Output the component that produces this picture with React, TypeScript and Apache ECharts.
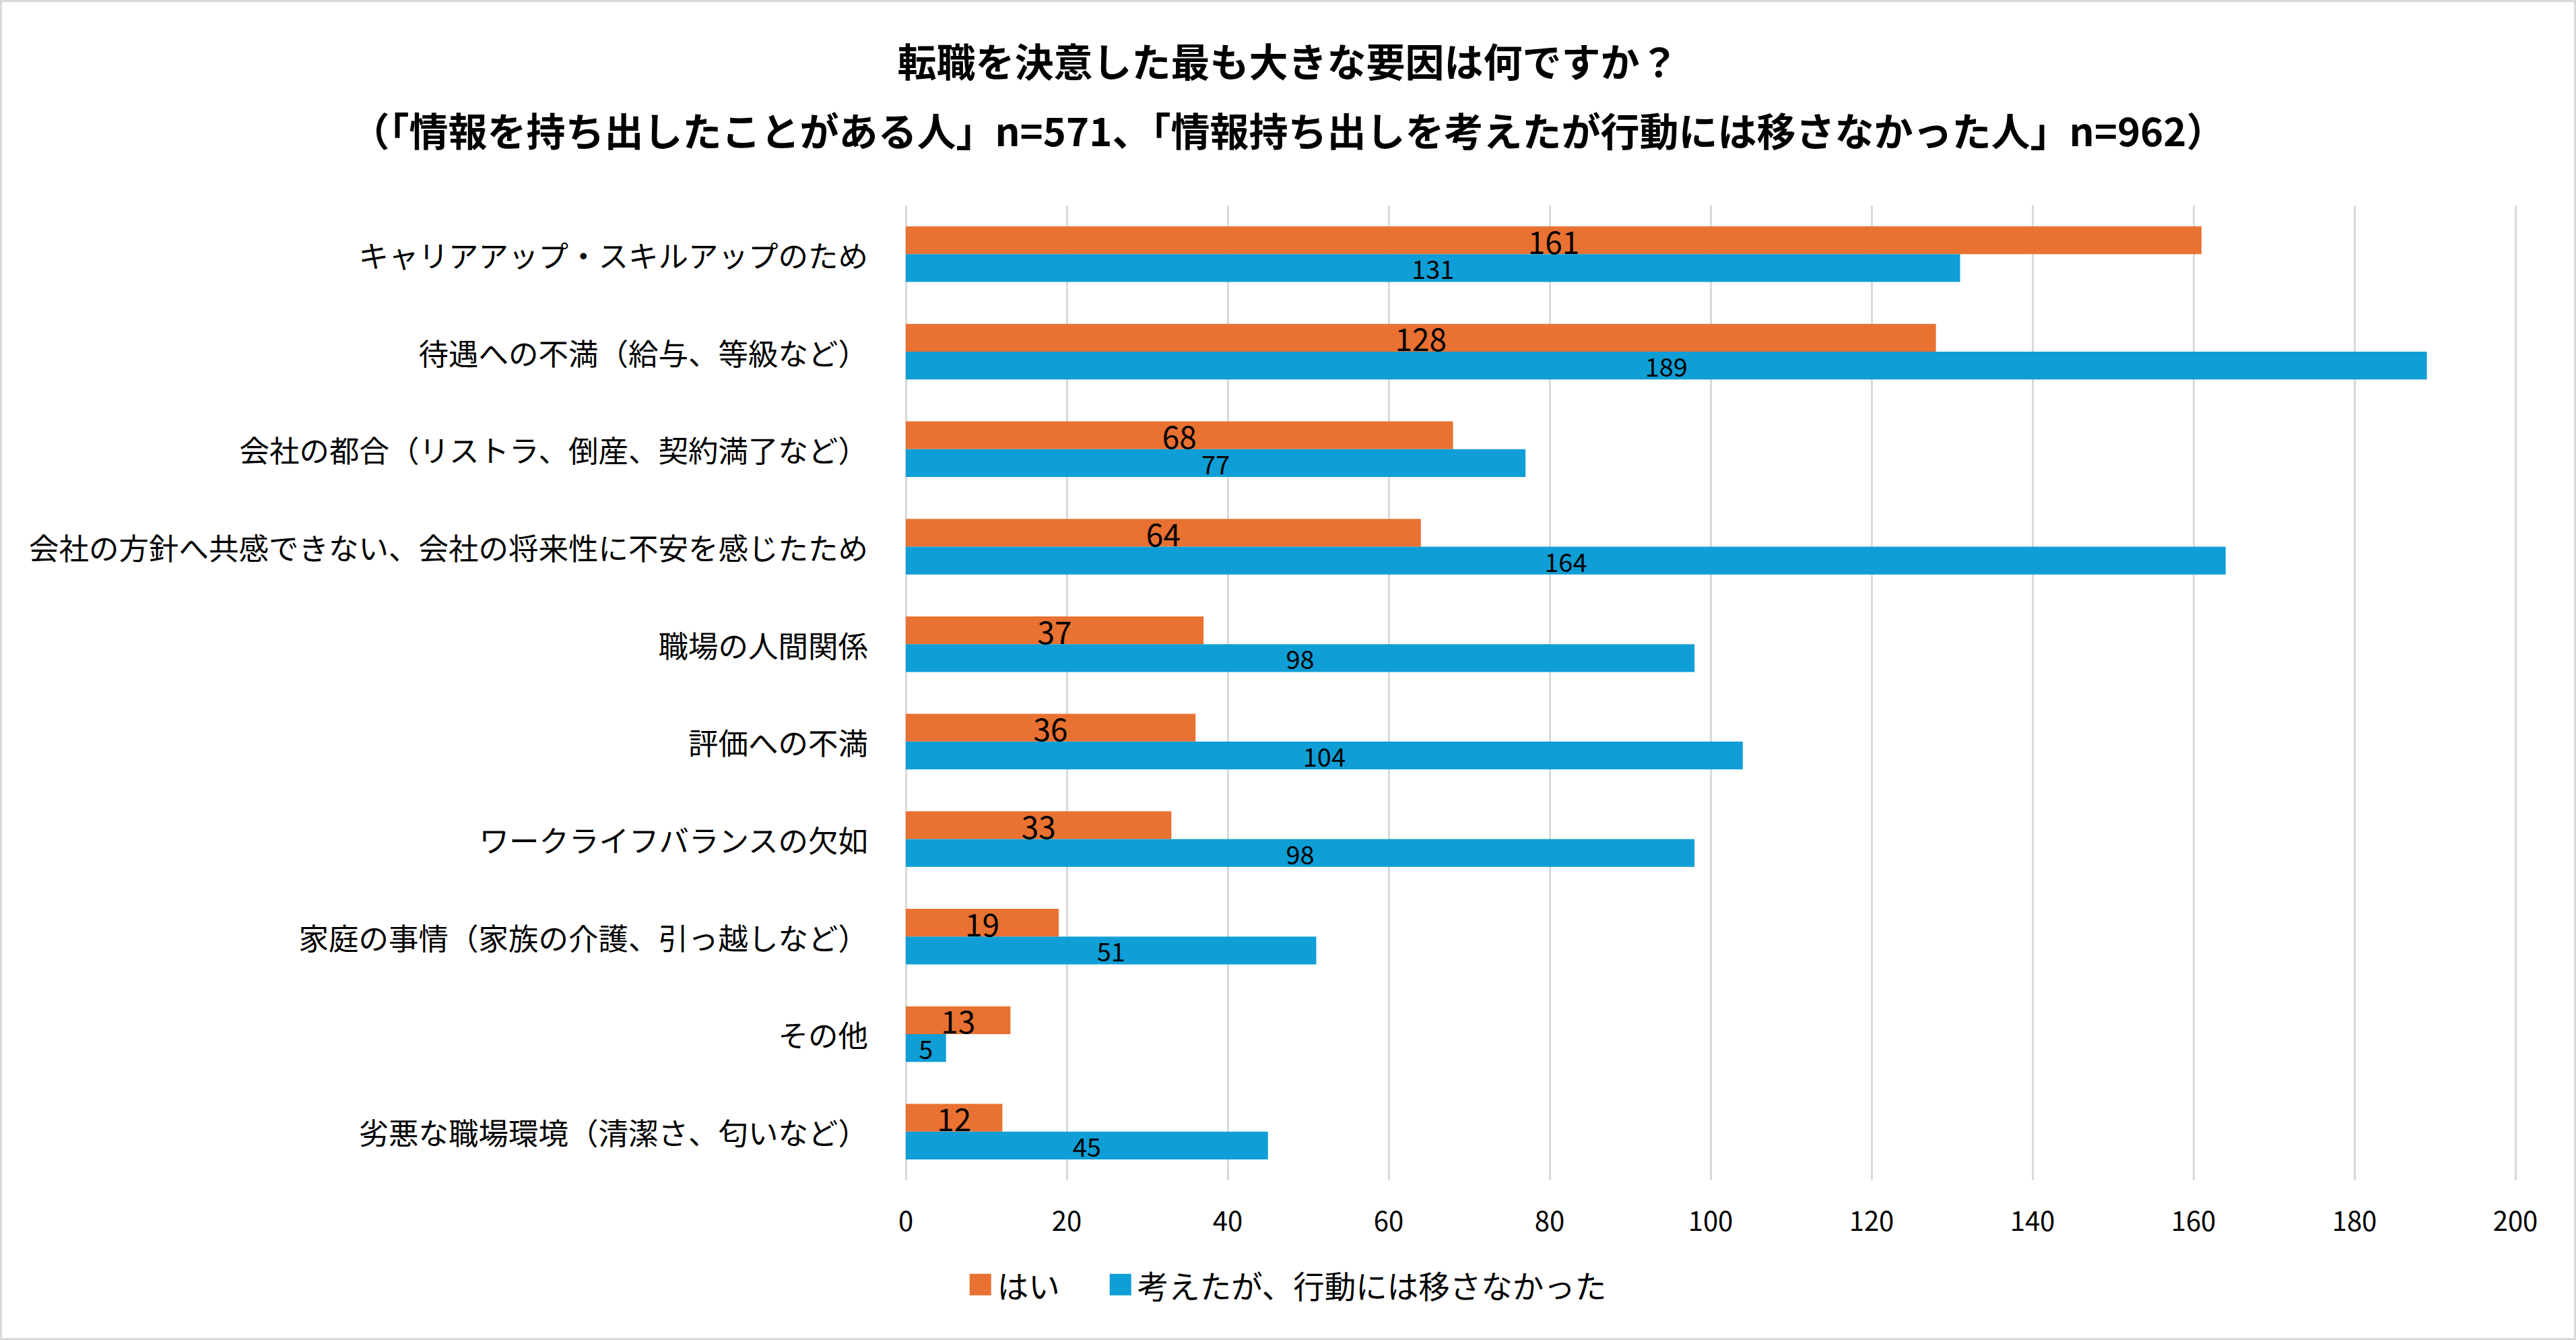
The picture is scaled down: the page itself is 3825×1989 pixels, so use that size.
import React, { useEffect, useRef } from "react";
import * as echarts from "echarts";

const categories = [
  "キャリアアップ・スキルアップのため",
  "待遇への不満（給与、等級など）",
  "会社の都合（リストラ、倒産、契約満了など）",
  "会社の方針へ共感できない、会社の将来性に不安を感じたため",
  "職場の人間関係",
  "評価への不満",
  "ワークライフバランスの欠如",
  "家庭の事情（家族の介護、引っ越しなど）",
  "その他",
  "劣悪な職場環境（清潔さ、匂いなど）",
];
const yesValues = [161, 128, 68, 64, 37, 36, 33, 19, 13, 12];
const thoughtValues = [131, 189, 77, 164, 98, 104, 98, 51, 5, 45];
const seriesNames = ["はい", "考えたが、行動には移さなかった"];
const titleLines = [
  "転職を決意した最も大きな要因は何ですか？",
  "（「情報を持ち出したことがある人」n=571、「情報持ち出しを考えたが行動には移さなかった人」n=962）",
];

const FONT = "'Noto Sans CJK JP', 'Noto Sans', sans-serif";
const W = 3825;
const H = 1989;

export default function App() {
  const ref = useRef<HTMLDivElement>(null);
  useEffect(() => {
    document.body.style.margin = "0";
    if (!ref.current) return;
    const chart = echarts.init(ref.current, undefined, { renderer: "svg" });
    const titleStyle = {
      fontFamily: FONT,
      fontSize: 58,
      fontWeight: "bold",
      color: "#000000",
    };
    chart.setOption({
      animation: false,
      backgroundColor: "#ffffff",
      textStyle: { fontFamily: FONT },
      title: [
        { text: titleLines[0], left: "center", top: 60, padding: 0, textStyle: titleStyle },
        { text: titleLines[1], left: "center", top: 163, padding: 0, textStyle: titleStyle },
      ],
      legend: {
        bottom: 54,
        left: "center",
        itemWidth: 32,
        itemHeight: 32,
        itemGap: 74,
        icon: "rect",
        textStyle: { fontFamily: FONT, fontSize: 46.5, color: "#000000", padding: [0, 0, 0, 4] },
        data: seriesNames,
      },
      grid: { left: 1345, right: 90, top: 305, bottom: 237, containLabel: false },
      xAxis: {
        type: "value",
        min: 0,
        max: 200,
        interval: 20,
        axisLine: { show: false },
        axisTick: { show: false },
        axisLabel: { fontFamily: FONT, fontSize: 40, color: "#000000", margin: 38 },
        splitLine: { show: true, lineStyle: { color: "#d9d9d9", width: 3 } },
      },
      yAxis: {
        type: "category",
        inverse: true,
        data: categories,
        axisLine: { show: false },
        axisTick: { show: false },
        axisLabel: { fontFamily: FONT, fontSize: 44.5, color: "#000000", margin: 56 },
      },
      series: [
        {
          name: seriesNames[0],
          type: "bar",
          data: yesValues,
          barGap: "0%",
          barCategoryGap: "43%",
          itemStyle: { color: "#E97132" },
          label: {
            show: true,
            position: "inside",
            fontFamily: FONT,
            fontSize: 46,
            color: "#000000",
          },
        },
        {
          name: seriesNames[1],
          type: "bar",
          data: thoughtValues,
          barGap: "0%",
          barCategoryGap: "43%",
          itemStyle: { color: "#0F9ED5" },
          label: {
            show: true,
            position: "inside",
            fontFamily: FONT,
            fontSize: 38,
            color: "#000000",
          },
        },
      ],
      graphic: [
        {
          type: "rect",
          silent: true,
          shape: { x: 1.5, y: 1.5, width: W - 3, height: H - 3 },
          style: { fill: "none", stroke: "#d9d9d9", lineWidth: 3 },
        },
      ],
    });
    return () => chart.dispose();
  }, []);
  return <div ref={ref} style={{ width: W, height: H }} />;
}
